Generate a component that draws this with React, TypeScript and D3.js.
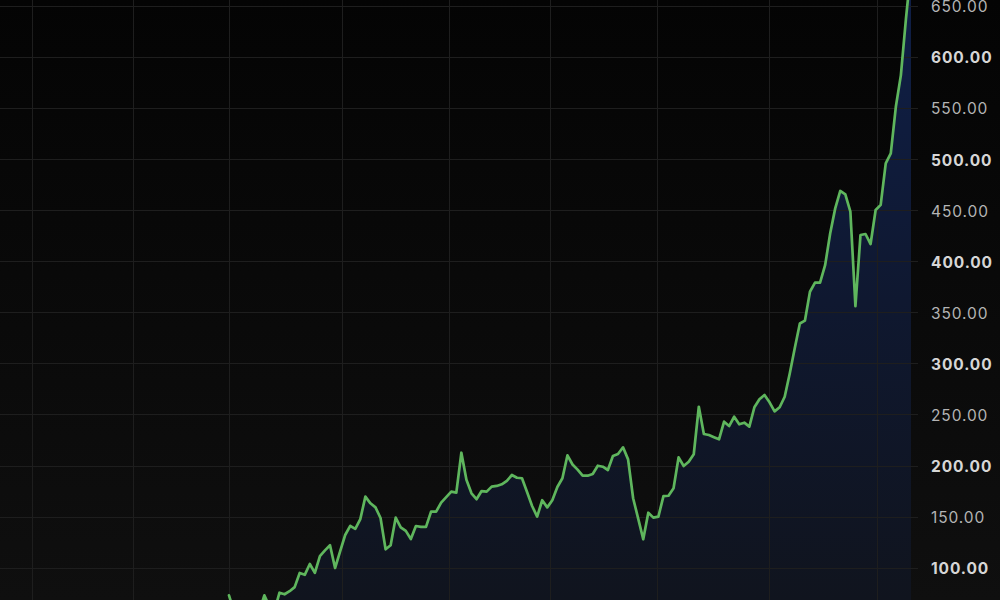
import React from "react";
import * as d3 from "d3";

// Daily closing values (first value at the first visible spike, last at the right edge)
const closes: number[] = [
  73, 57, 52, 55, 50, 54, 57, 73, 62, 58,
  75.5, 74, 77, 81, 94.8, 93, 103.6, 95, 111.4,
  117, 122, 99.7, 116, 132, 141, 138, 147.6, 169.5, 163,
  159, 148.6, 118, 122, 149, 139.5, 136, 128, 140.8, 140,
  140, 154.8, 154.8, 163.6, 169, 174.4, 173.4, 212.5, 186, 172.8,
  167, 175, 174.4, 179.3, 180, 181.6, 185, 190.7, 188, 187.5,
  174, 160.4, 150, 166, 159, 166, 179, 187.5, 210, 201,
  196, 190, 190, 191.7, 199.8, 198.8, 195.6, 209.3, 211.2, 217.8,
  206, 168, 148, 127.8, 153.8, 149, 150, 170, 170.4, 177.7,
  208, 199.5, 203.7, 211, 257.5, 230.8, 229.8, 227.7, 225.6, 242.9,
  238.6, 247.7, 240.3, 241.9, 238, 257, 264.8, 269, 261.8, 253,
  257, 267.3, 290, 315, 339, 341.7, 370, 378.9, 379, 396,
  427, 451.6, 468.6, 465.4, 448.3, 356, 425.5, 426.5, 416.7, 450,
  455, 495.7, 505.5, 551, 582, 637, 686,
];

// Month-start positions, in bar index units (relative to the first value above)
const monthStarts: number[] = [-39, -19, 0, 22.3, 43.6, 63.5, 84.7, 106.8, 128.3];

// Price scale ticks
const priceTicks: number[] = [100, 150, 200, 250, 300, 350, 400, 450, 500, 550, 600, 650];

const W = 1000;
const H = 600;
const PLOT_RIGHT = 911;
const GRID_RIGHT = 918;
const LABEL_X = 931;

export default function App() {
  const firstX = PLOT_RIGHT - (closes.length - 1) * 5.052;
  const x = d3.scaleLinear().domain([0, closes.length - 1]).range([firstX, PLOT_RIGHT]);
  const y = d3.scaleLinear().domain([100, 650]).range([567.7, 5.6]);

  const line = d3
    .line<number>()
    .x((_, i) => x(i))
    .y((d) => y(d));
  const area = d3
    .area<number>()
    .x((_, i) => x(i))
    .y0(H + 20)
    .y1((d) => y(d));

  return (
    <svg
      width={W}
      height={H}
      style={{ position: "fixed", left: 0, top: 0, display: "block" }}
    >
      <defs>
        <linearGradient id="bg" x1="0" y1="0" x2="0" y2={H} gradientUnits="userSpaceOnUse">
          <stop offset="0" stopColor="#040404" />
          <stop offset="1" stopColor="#0f0f0f" />
        </linearGradient>
        <linearGradient id="areaFill" x1="0" y1="0" x2="0" y2={H} gradientUnits="userSpaceOnUse">
          <stop offset="0" stopColor="#0f1f47" />
          <stop offset="0.5" stopColor="#0f1830" />
          <stop offset="1" stopColor="#10141e" />
        </linearGradient>
        <clipPath id="plotClip">
          <rect x={0} y={0} width={PLOT_RIGHT + 2} height={H} />
        </clipPath>
      </defs>
      <rect x={0} y={0} width={W} height={H} fill="url(#bg)" />

      {/* area under the line */}
      <g clipPath="url(#plotClip)">
        <path d={area(closes) || ""} fill="url(#areaFill)" />
      </g>

      {/* grid */}
      <g stroke="#1e1e1e" strokeWidth={1}>
        {priceTicks.map((t) => (
          <line key={"h" + t} x1={0} x2={GRID_RIGHT} y1={Math.round(y(t)) + 0.5} y2={Math.round(y(t)) + 0.5} />
        ))}
        {monthStarts.map((m) => (
          <line key={"v" + m} x1={Math.round(x(m)) + 0.5} x2={Math.round(x(m)) + 0.5} y1={0} y2={H} />
        ))}
      </g>

      {/* price line */}
      <g clipPath="url(#plotClip)">
        <path
          d={line(closes) || ""}
          fill="none"
          stroke="#5fb65d"
          strokeWidth={2.7}
          strokeLinejoin="round"
          strokeLinecap="round"
        />
      </g>

      {/* price scale labels */}
      <g fontFamily="Inter, 'Noto Sans', sans-serif" fontSize={15.5} letterSpacing={0.9}>
        {priceTicks.map((t) => {
          const major = t % 100 === 0;
          return (
            <text
              key={"l" + t}
              x={LABEL_X}
              y={y(t)}
              dy="0.43em"
              fill={major ? "#d6d6d6" : "#b4b4b4"}
              fontWeight={major ? 700 : 400}
            >
              {t.toFixed(2)}
            </text>
          );
        })}
      </g>
    </svg>
  );
}
